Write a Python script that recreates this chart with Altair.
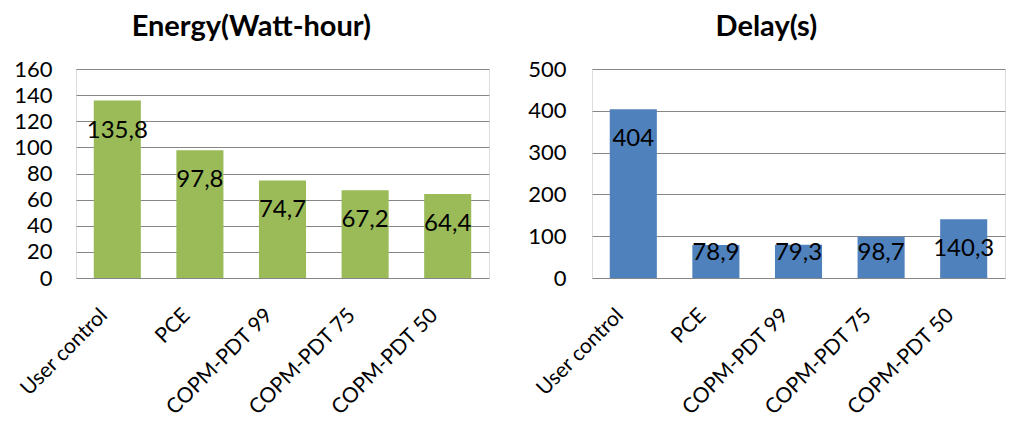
import altair as alt
import pandas as pd

categories = ["User control", "PCE", "COPM-PDT 99", "COPM-PDT 75", "COPM-PDT 50"]
energy = [135.8, 97.8, 74.7, 67.2, 64.4]
delay = [404, 78.9, 79.3, 98.7, 140.3]
energy_ticks = [0, 20, 40, 60, 80, 100, 120, 140, 160]
delay_ticks = [0, 100, 200, 300, 400, 500]

def fmt(v):
    s = ("%g" % v)
    return s.replace(".", ",")

FONT = "Lato"
H = 209

def panel(values, ticks, title, color, ymax, ypad):
    df = pd.DataFrame({"cat": categories, "v": values, "lab": [fmt(v) for v in values]})
    base = alt.Chart(df)
    xaxis = alt.Axis(labelAngle=-45, labelFontSize=21, labelFont=FONT, labelColor="#000",
                     labelAlign="right", labelBaseline="middle", labelOffset=-13,
                     ticks=False, domain=False, labelPadding=34, labelLimit=300)
    yaxis = alt.Axis(values=ticks, labelFontSize=22, labelFont=FONT, labelColor="#000",
                     ticks=False, domain=False, gridColor="#868686", gridWidth=1,
                     labelPadding=ypad, labelOverlap=False, labelFlush=False)
    xs = alt.Scale(paddingInner=0.43, paddingOuter=0.215)
    ys = alt.Scale(domain=[0, ymax], nice=False)
    bars = base.mark_bar(color=color).encode(
        x=alt.X("cat:N", sort=categories, title=None, scale=xs, axis=xaxis),
        y=alt.Y("v:Q", title=None, scale=ys, axis=yaxis))
    clamp = ymax * 55.0 / H
    text = base.transform_calculate(
        ly="max(datum.v, %f)" % clamp
    ).mark_text(baseline="middle", dy=30, fontSize=24, font=FONT, color="#000").encode(
        x=alt.X("cat:N", sort=categories, title=None, scale=xs, axis=xaxis),
        y=alt.Y("ly:Q", title=None, scale=ys, axis=yaxis), text="lab:N")
    return alt.layer(bars, text).properties(
        width=413, height=H,
        title=alt.TitleParams(title, fontSize=29, font=FONT, fontWeight="bold", color="#000",
                              offset=16, anchor="middle", frame="bounds"))

left = panel(energy, energy_ticks, "Energy(Watt-hour)", "#9BBB59", 160, 24)
right = panel(delay, delay_ticks, "Delay(s)", "#4F81BD", 500, 26)

chart = alt.hconcat(left, right, spacing=37).resolve_scale(y="independent").configure_view(
    stroke="#868686", strokeWidth=1).configure(background="white").properties(
    padding={"left": 5, "top": 4, "right": 0, "bottom": 0})

chart.save("out.html", embed_options={"renderer": "svg", "actions": False})
